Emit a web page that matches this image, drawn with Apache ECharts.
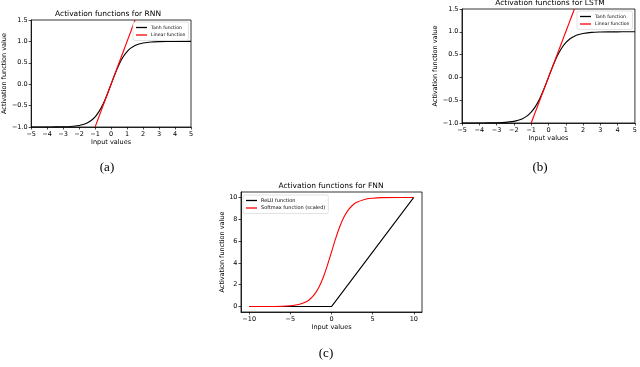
<!DOCTYPE html>
<html>
<head>
<meta charset="utf-8">
<script src="https://cdn.jsdelivr.net/npm/echarts@6/dist/echarts.min.js"></script>
<style>
  html, body { margin: 0; padding: 0; background: #fff; }
  #chart-container { width: 640px; height: 367px; }
</style>
</head>
<body>
<div id="chart-container"></div>
<script>
// values
const tanhX = [-5, -4.5, -4, -3.5, -3, -2.5, -2, -1.75, -1.5, -1.25, -1, -0.75, -0.5, -0.25, 0,
  0.25, 0.5, 0.75, 1, 1.25, 1.5, 1.75, 2, 2.5, 3, 3.5, 4, 4.5, 5];
const tanhY = [-1.0, -1.0, -0.999, -0.998, -0.995, -0.987, -0.964, -0.941, -0.905, -0.848, -0.762, -0.635, -0.462, -0.245, 0,
  0.245, 0.462, 0.635, 0.762, 0.848, 0.905, 0.941, 0.964, 0.987, 0.995, 0.998, 0.999, 1.0, 1.0];
const linearX = [-1, 1.5];
const linearY = [-1, 1.5];

const reluX = [-10, 0, 10];
const reluY = [0, 0, 10];
const softX = [-10, -8, -6, -5, -4, -3, -2.5, -2, -1.5, -1, -0.5, 0, 0.5, 1, 1.5, 2, 2.5, 3, 4, 5, 6, 8, 10];
const softY = [0, 0, 0.02, 0.07, 0.18, 0.47, 0.76, 1.19, 1.82, 2.69, 3.78, 5.0, 6.22, 7.31, 8.18, 8.81, 9.24, 9.53, 9.82, 9.93, 9.98, 10, 10];

const fnnXTicks = [-10, -5, 0, 5, 10];
const fnnYTicks = [0, 2, 4, 6, 8, 10];

const titles = ['Activation functions for RNN', 'Activation functions for LSTM', 'Activation functions for FNN'];
const captions = ['(a)', '(b)', '(c)'];

const pairs = (xs, ys) => xs.map((x, i) => [x, ys[i]]);
const minus = s => String(s).replace('-', '\u2212');
const FONT = 'DejaVu Sans';

let dom = document.getElementById('chart-container');
let myChart = echarts.init(dom, null, { renderer: 'canvas' });

function axis(idx, opts) {
  return Object.assign({
    gridIndex: idx,
    type: 'value',
    nameLocation: 'middle',
    nameTextStyle: { fontFamily: FONT, fontSize: 6.5, color: '#000' },
    axisLine: { show: true, onZero: false, lineStyle: { color: '#000', width: 0.8 } },
    axisTick: { show: true, inside: false, length: 2.5, lineStyle: { color: '#000', width: 0.7 } },
    axisLabel: { fontFamily: FONT, fontSize: 6.5, color: '#000', margin: 3.5 },
    splitLine: { show: false }
  }, opts);
}

function tanhX_axis(idx, gap) {
  return axis(idx, {
    min: -5, max: 5, interval: 1, name: 'Input values', nameGap: gap,
    axisLabel: { fontFamily: FONT, fontSize: 6.5, color: '#000', margin: 3.5, formatter: v => minus(v) }
  });
}
function tanhY_axis(idx, gap) {
  return axis(idx, {
    min: -1, max: 1.5, interval: 0.5, name: 'Activation function value', nameGap: gap, nameRotate: 90,
    axisLabel: { fontFamily: FONT, fontSize: 6.5, color: '#000', margin: 3.5, formatter: v => minus(v.toFixed(1)) }
  });
}

function legend(left, top, names, fontSize) {
  return {
    left: left, top: top, orient: 'vertical',
    data: names,
    icon: 'rect', itemWidth: 11, itemHeight: 1.3, itemGap: 2.5,
    padding: [3, 3, 3, 3],
    backgroundColor: '#fff', borderColor: '#d0d0d0', borderWidth: 0.6, borderRadius: 2,
    textStyle: { fontFamily: FONT, fontSize: fontSize, color: '#000', padding: [0, 0, 0, -1] },
    selectedMode: false
  };
}

const gridStyle = { show: true, borderColor: '#000', borderWidth: 0.8, backgroundColor: 'transparent' };

let option = {
  animation: false,
  grid: [
    Object.assign({ left: 26, top: 20, width: 165, height: 107 }, gridStyle),
    Object.assign({ left: 462, top: 9, width: 175, height: 114 }, gridStyle),
    Object.assign({ left: 241, top: 192, width: 181, height: 120 }, gridStyle)
  ],
  xAxis: [
    tanhX_axis(0, 10),
    tanhX_axis(1, 10.5),
    axis(2, {
      min: -11, max: 11, name: 'Input values', nameGap: 11,
      axisTick: { show: true, length: 2.5, customValues: fnnXTicks, lineStyle: { color: '#000', width: 0.7 } },
      axisLabel: { fontFamily: FONT, fontSize: 6.5, color: '#000', margin: 3.5, customValues: fnnXTicks, formatter: v => minus(v) }
    })
  ],
  yAxis: [
    tanhY_axis(0, 18),
    tanhY_axis(1, 20),
    axis(2, {
      min: -0.5, max: 10.5, name: 'Activation function value', nameGap: 14, nameRotate: 90,
      axisTick: { show: true, length: 2.5, customValues: fnnYTicks, lineStyle: { color: '#000', width: 0.7 } },
      axisLabel: { fontFamily: FONT, fontSize: 6.5, color: '#000', margin: 3.5, customValues: fnnYTicks }
    })
  ],
  legend: [
    legend(133, 22, ['Tanh function', 'Linear function'], 4.6),
    legend(577, 11, ['Tanh function', 'Linear function'], 4.6),
    legend(243, 195, ['ReLU function', 'Softmax function (scaled)'], 5)
  ],
  graphic: [
    { type: 'text', x: 108, y: 14.5, style: { text: titles[0], font: '7.5px "DejaVu Sans"', fill: '#000', align: 'center', verticalAlign: 'middle' } },
    { type: 'text', x: 550, y: 3, style: { text: titles[1], font: '7.5px "DejaVu Sans"', fill: '#000', align: 'center', verticalAlign: 'middle' } },
    { type: 'text', x: 331, y: 186, style: { text: titles[2], font: '7.5px "DejaVu Sans"', fill: '#000', align: 'center', verticalAlign: 'middle' } },
    { type: 'text', x: 107, y: 168, style: { text: captions[0], font: '13px "Liberation Serif"', fill: '#000', align: 'center', verticalAlign: 'middle' } },
    { type: 'text', x: 540, y: 168, style: { text: captions[1], font: '13px "Liberation Serif"', fill: '#000', align: 'center', verticalAlign: 'middle' } },
    { type: 'text', x: 326, y: 354, style: { text: captions[2], font: '13px "Liberation Serif"', fill: '#000', align: 'center', verticalAlign: 'middle' } }
  ],
  series: [
    { name: 'Tanh function', type: 'line', xAxisIndex: 0, yAxisIndex: 0, data: pairs(tanhX, tanhY), smooth: 0.3,
      showSymbol: false, lineStyle: { color: '#000', width: 1.1 }, itemStyle: { color: '#000' } },
    { name: 'Linear function', type: 'line', xAxisIndex: 0, yAxisIndex: 0, data: pairs(linearX, linearY),
      showSymbol: false, lineStyle: { color: '#ff0000', width: 1.1 }, itemStyle: { color: '#ff0000' } },
    { name: 'Tanh function', type: 'line', xAxisIndex: 1, yAxisIndex: 1, data: pairs(tanhX, tanhY), smooth: 0.3,
      showSymbol: false, lineStyle: { color: '#000', width: 1.1 }, itemStyle: { color: '#000' } },
    { name: 'Linear function', type: 'line', xAxisIndex: 1, yAxisIndex: 1, data: pairs(linearX, linearY),
      showSymbol: false, lineStyle: { color: '#ff0000', width: 1.1 }, itemStyle: { color: '#ff0000' } },
    { name: 'ReLU function', type: 'line', xAxisIndex: 2, yAxisIndex: 2, data: pairs(reluX, reluY),
      showSymbol: false, lineStyle: { color: '#000', width: 1.1 }, itemStyle: { color: '#000' } },
    { name: 'Softmax function (scaled)', type: 'line', xAxisIndex: 2, yAxisIndex: 2, data: pairs(softX, softY), smooth: 0.3,
      showSymbol: false, lineStyle: { color: '#ff0000', width: 1.1 }, itemStyle: { color: '#ff0000' } }
  ]
};

if (option && typeof option === 'object') {
  myChart.setOption(option);
}

window.addEventListener('resize', myChart.resize);
</script>
</body>
</html>
